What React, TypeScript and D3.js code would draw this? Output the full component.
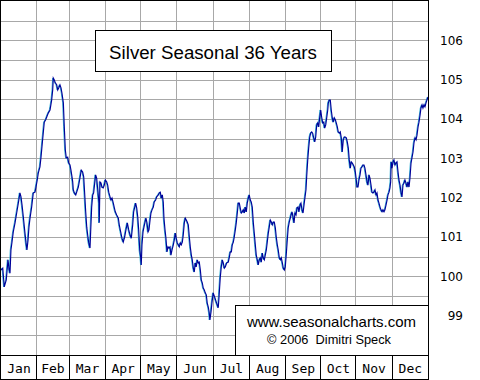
import React from "react";
import * as d3 from "d3";

// Seasonal pattern: [day position within year, index value]
const seasonal: [number, number][] = [
[0,100.16],[1.5,100.21],[2.8,99.73],[4.5,99.91],[6.0,100.42],[6.8,100.21],[7.7,100.08],[8.5,100.67],[9.4,100.87],[10.5,101.13],[12.0,101.36],[13.4,101.61],[14.8,101.86],[16.2,102.12],[17.1,102.02],[18.0,101.81],[19.1,101.51],[20.5,101.10],[21.4,100.85],[22.2,100.67],[23.1,100.92],[23.9,101.25],[24.8,101.48],[26.2,101.76],[27.6,102.12],[29.1,102.14],[29.9,102.27],[31.0,102.45],[31.9,102.63],[33.3,102.78],[34.2,103.03],[35.0,103.29],[36.2,103.67],[37.0,103.92],[38.2,103.98],[39.1,104.05],[40.4,104.15],[41.9,104.23],[43.3,104.48],[44.2,104.74],[44.7,105.04],[45.6,104.99],[46.4,104.92],[47.6,104.87],[48.5,104.74],[49.3,104.79],[50.4,104.87],[51.3,104.79],[52.1,104.66],[53.3,104.41],[54.1,103.80],[55.0,103.21],[55.8,103.01],[57.0,103.03],[57.9,102.88],[59.0,102.83],[59.8,102.70],[60.7,102.53],[61.3,102.40],[61.8,102.20],[62.7,102.12],[63.9,102.07],[64.7,102.14],[66.1,102.27],[67.5,102.50],[68.6,102.70],[69.8,102.65],[70.7,102.53],[71.5,102.12],[72.4,101.64],[73.3,101.25],[74.1,101.05],[75.0,100.85],[76.1,100.72],[76.7,101.18],[77.5,101.76],[78.4,102.07],[79.2,102.12],[80.1,102.37],[80.9,102.58],[81.8,102.50],[82.9,102.14],[83.8,101.86],[84.0,101.36],[84.6,102.40],[85.5,102.37],[86.3,102.27],[87.4,102.25],[88.3,102.32],[89.2,102.45],[90.4,102.40],[91.2,102.32],[92.1,102.14],[93.2,102.02],[94.0,101.94],[94.9,101.99],[96.0,101.86],[96.9,101.74],[97.7,101.64],[98.9,101.56],[100.3,101.48],[101.1,101.31],[102.3,101.13],[103.4,100.97],[104.5,100.87],[105.7,101.00],[106.8,101.18],[108.0,101.36],[109.2,101.18],[110.3,101.05],[111.4,100.97],[112.6,101.31],[113.4,101.64],[114.3,101.76],[115.1,101.86],[116.0,101.74],[116.9,101.51],[117.7,101.18],[118.6,100.67],[119.4,100.49],[119.9,100.29],[120.5,100.80],[121.4,101.13],[122.2,101.25],[123.1,101.38],[123.9,101.48],[124.8,101.36],[125.7,101.13],[126.5,101.18],[127.4,101.43],[128.2,101.61],[129.1,101.69],[130.2,101.76],[131.0,101.89],[132.2,101.94],[133.1,102.02],[134.5,102.07],[135.3,102.12],[136.2,102.14],[137.0,101.99],[137.9,102.07],[138.7,101.89],[139.3,101.48],[140.2,101.18],[141.0,100.97],[141.9,100.62],[142.8,100.75],[143.6,100.72],[144.5,100.75],[145.3,100.54],[146.2,100.67],[147.3,100.80],[148.1,100.92],[149.0,101.10],[149.8,100.97],[150.7,100.85],[151.6,100.80],[152.4,100.75],[153.3,100.85],[154.1,100.80],[155.0,100.87],[155.8,101.05],[156.7,101.36],[157.5,101.48],[158.4,101.43],[159.2,101.38],[160.1,101.31],[161.0,101.00],[161.8,100.75],[162.7,100.54],[163.5,100.42],[164.4,100.21],[165.2,100.11],[166.1,100.34],[166.9,100.24],[167.8,100.42],[168.7,100.34],[169.5,100.36],[170.4,100.16],[171.2,99.91],[172.1,99.83],[172.9,99.70],[173.8,99.65],[174.6,99.58],[175.5,99.53],[176.3,99.32],[177.2,99.22],[178.0,99.07],[178.6,98.89],[179.5,99.09],[180.3,99.32],[181.4,99.58],[182.9,99.45],[184.3,99.32],[185.7,99.20],[186.5,99.53],[187.4,99.96],[188.3,100.24],[189.2,100.42],[190.0,100.34],[190.9,100.21],[191.7,100.24],[192.9,100.34],[194.3,100.36],[195.2,100.49],[196.0,100.62],[196.9,100.62],[197.7,100.80],[198.6,100.87],[199.4,101.00],[200.3,101.18],[201.1,101.36],[202.0,101.61],[202.8,101.86],[203.7,101.86],[204.5,101.74],[205.4,101.61],[206.3,101.64],[207.1,101.69],[208.0,101.61],[208.8,101.76],[209.7,101.64],[210.5,101.86],[211.4,101.99],[212.2,102.07],[213.1,101.94],[213.9,101.89],[214.8,101.76],[215.7,101.36],[216.5,101.10],[217.4,100.80],[218.2,100.54],[219.1,100.42],[219.9,100.29],[220.8,100.42],[221.6,100.47],[222.5,100.36],[223.4,100.59],[224.2,100.47],[225.1,100.42],[225.9,100.54],[226.8,100.67],[227.6,100.87],[228.5,101.10],[229.3,101.25],[230.2,101.43],[231.1,101.38],[231.9,101.31],[232.8,101.38],[233.6,101.38],[234.5,101.23],[235.3,101.00],[236.2,100.80],[237.0,100.67],[237.9,100.47],[238.8,100.42],[239.6,100.47],[240.5,100.34],[241.3,100.21],[242.2,100.16],[243.0,100.24],[243.8,100.54],[244.7,100.92],[245.5,101.23],[246.4,101.38],[247.3,101.48],[247.9,101.56],[248.8,101.64],[249.6,101.51],[250.5,101.36],[251.3,101.61],[252.2,101.56],[253.0,101.74],[253.9,101.76],[254.7,101.64],[255.6,101.81],[256.4,101.86],[257.3,101.69],[258.2,101.61],[259.0,101.81],[259.9,102.02],[260.7,102.20],[261.3,102.53],[262.2,102.96],[263.0,103.26],[263.9,103.54],[264.7,103.64],[265.6,103.67],[266.4,103.64],[267.3,103.52],[268.2,103.42],[269.0,103.54],[269.9,103.85],[270.7,103.90],[271.6,103.80],[272.4,104.03],[273.3,104.23],[274.1,104.05],[275.0,103.90],[275.9,103.92],[276.7,103.77],[277.6,103.85],[278.4,104.03],[279.3,104.23],[279.8,104.41],[280.6,104.48],[281.5,104.48],[282.3,104.23],[283.2,104.03],[284.0,103.92],[284.9,104.03],[285.8,103.98],[286.6,103.90],[287.5,103.80],[288.3,103.67],[289.2,103.64],[290.0,103.67],[290.9,103.52],[291.7,103.16],[292.6,103.47],[293.5,103.54],[294.3,103.54],[295.2,103.52],[296.0,103.42],[296.9,103.26],[297.7,102.96],[298.6,102.75],[299.4,102.91],[300.3,102.88],[301.2,102.83],[302.0,102.78],[302.9,102.65],[303.7,102.45],[304.3,102.27],[305.2,102.27],[306.0,102.45],[306.9,102.58],[307.7,102.75],[308.6,102.78],[309.4,102.83],[310.3,102.83],[311.1,102.75],[312.0,102.58],[312.9,102.40],[313.7,102.32],[314.6,102.58],[315.4,102.50],[316.3,102.32],[317.1,102.14],[318.0,102.12],[318.8,102.14],[319.7,102.20],[320.6,102.07],[321.4,102.12],[322.3,101.94],[323.1,101.86],[324.0,101.76],[324.8,101.69],[325.7,101.64],[326.5,101.69],[327.4,101.64],[328.2,101.69],[329.1,101.81],[330.0,101.94],[330.8,102.07],[331.7,102.14],[332.5,102.25],[333.1,102.40],[333.6,102.91],[334.2,102.75],[335.1,102.91],[335.9,102.96],[336.8,102.83],[337.6,102.88],[338.5,102.91],[339.4,102.65],[340.2,102.45],[341.1,102.32],[341.9,102.14],[342.8,102.02],[343.6,102.32],[344.5,102.37],[345.3,102.45],[346.2,102.37],[347.1,102.27],[347.9,102.40],[348.8,102.27],[349.6,102.50],[350.5,102.88],[351.3,103.01],[352.2,103.16],[353.0,103.39],[353.9,103.52],[354.8,103.47],[355.6,103.59],[356.5,103.80],[357.3,103.92],[358.2,104.10],[359.0,104.28],[359.9,104.36],[360.7,104.28],[361.6,104.36],[362.4,104.31],[363.3,104.41],[364.1,104.48],[365.0,104.56]
];

const months = ["Jan", "Feb", "Mar", "Apr", "May", "Jun", "Jul", "Aug", "Sep", "Oct", "Nov", "Dec"];
const monthStarts = [0, 30, 58, 89, 119, 150, 181, 212, 243, 273, 303, 334, 365];
const yLabels = [99, 100, 101, 102, 103, 104, 105, 106];
const title = "Silver Seasonal 36 Years";
const creditLines = ["www.seasonalcharts.com", "\u00a9 2006  Dimitri Speck"];

export default function App() {
  const W = 480, H = 380;
  const plotL = 1, plotR = 428, plotT = 1, plotB = 355;
  const x = d3.scaleLinear().domain([0, 365]).range([plotL, plotR]);
  const y = d3.scaleLinear().domain([98, 107]).range([plotB, plotT]);
  const gridVals = y.ticks(18).filter((v) => v > 98 && v < 107);
  const line = d3
    .line<[number, number]>()
    .x((d) => x(d[0]))
    .y((d) => y(d[1]));
  const path = line(seasonal) || "";
  const crisp = (v: number) => Math.round(v) + 0.5;

  return (
    <svg
      width={W}
      height={H}
      style={{ position: "absolute", left: 0, top: 0, background: "#fff" }}
    >
      <rect x={0} y={0} width={W} height={H} fill="#fff" />
      {/* grid */}
      <g stroke="#a8a8a8" strokeWidth={1} shapeRendering="crispEdges">
        {gridVals.map((v) => (
          <line key={"h" + v} x1={plotL} x2={plotR} y1={crisp(y(v))} y2={crisp(y(v))} />
        ))}
        {monthStarts.slice(1, -1).map((d) => (
          <line key={"v" + d} x1={crisp(x(d))} x2={crisp(x(d))} y1={plotT} y2={plotB} />
        ))}
      </g>
      {/* series */}
      <path d={path} fill="none" stroke="#20a8d0" strokeWidth={0.9} transform="translate(-0.7,0)" />
      <path d={path} fill="none" stroke="#000099" strokeWidth={1.15} />
      {/* title box */}
      <rect x={95.5} y={30.5} width={236} height={41} fill="#fff" stroke="#000" strokeWidth={1} shapeRendering="crispEdges" />
      <text x={213} y={58.5} textAnchor="middle" fontFamily="'Liberation Sans', Arial, sans-serif" fontSize={18.7} fill="#000">
        {title}
      </text>
      {/* credit box */}
      <rect x={235.5} y={305.5} width={193} height={50} fill="#fff" stroke="#000" strokeWidth={1} shapeRendering="crispEdges" />
      <text x={331.5} y={327} textAnchor="middle" fontFamily="'Liberation Sans', Arial, sans-serif" fontSize={15} fill="#000">
        {creditLines[0]}
      </text>
      <text x={329} y={344} textAnchor="middle" fontFamily="'Liberation Sans', Arial, sans-serif" fontSize={12.8} fill="#000" style={{ whiteSpace: "pre" }}>
        {creditLines[1]}
      </text>
      {/* frame */}
      <g stroke="#000" strokeWidth={1} shapeRendering="crispEdges" fill="none">
        <line x1={0} x2={plotR + 1} y1={0.5} y2={0.5} />
        <line x1={0.5} x2={0.5} y1={0} y2={H} />
        <line x1={crisp(x(365))} x2={crisp(x(365))} y1={0} y2={H} />
        <line x1={0} x2={plotR + 1} y1={plotB + 0.5} y2={plotB + 0.5} />
        <line x1={0} x2={plotR + 1} y1={H - 0.5} y2={H - 0.5} />
        {monthStarts.slice(1, -1).map((d) => (
          <line key={"s" + d} x1={crisp(x(d))} x2={crisp(x(d))} y1={plotB} y2={H} />
        ))}
      </g>
      {/* month labels */}
      {months.map((m, i) => (
        <text
          key={m}
          x={(x(monthStarts[i]) + x(monthStarts[i + 1])) / 2 + 0.5}
          y={372.5}
          textAnchor="middle"
          fontFamily="'DejaVu Sans Mono', monospace"
          fontSize={13}
          fill="#000"
        >
          {m}
        </text>
      ))}
      {/* right labels */}
      {yLabels.map((v) => (
        <text
          key={v}
          x={463}
          y={y(v)}
          dy="0.36em"
          textAnchor="end"
          fontFamily="'DejaVu Sans', sans-serif"
          fontSize={12}
          fill="#000"
        >
          {v}
        </text>
      ))}
    </svg>
  );
}
